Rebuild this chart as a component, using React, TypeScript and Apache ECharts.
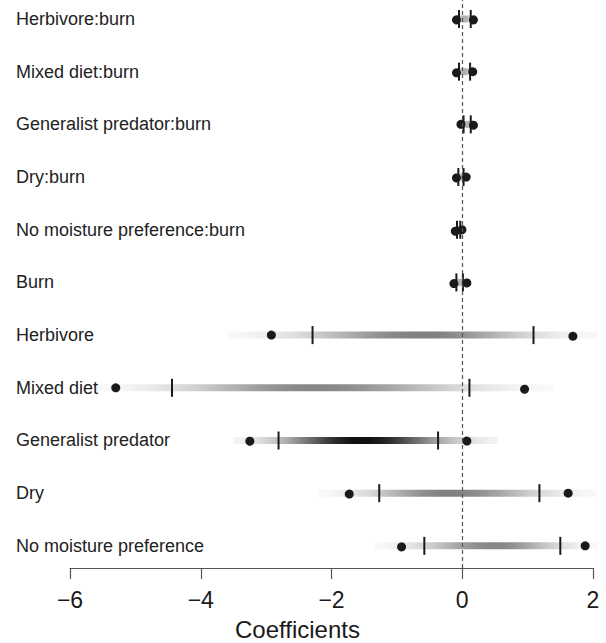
import React, { useEffect, useRef } from "react";
import * as echarts from "echarts";

// Rows from top to bottom
const labels = [
  "Herbivore:burn",
  "Mixed diet:burn",
  "Generalist predator:burn",
  "Dry:burn",
  "No moisture preference:burn",
  "Burn",
  "Herbivore",
  "Mixed diet",
  "Generalist predator",
  "Dry",
  "No moisture preference",
];
const outerLow = [-0.09, -0.09, -0.02, -0.09, -0.11, -0.13, -2.92, -5.3, -3.25, -1.73, -0.93];
const outerHigh = [0.17, 0.16, 0.17, 0.06, -0.005, 0.07, 1.69, 0.95, 0.07, 1.62, 1.88];
const innerLow = [-0.05, -0.05, 0.02, -0.06, -0.08, -0.09, -2.29, -4.44, -2.81, -1.27, -0.58];
const innerHigh = [0.13, 0.12, 0.13, 0.02, -0.03, 0.01, 1.09, 0.11, -0.37, 1.18, 1.5];
const densityLow = [-0.16, -0.15, -0.08, -0.13, -0.14, -0.17, -3.6, -5.6, -3.5, -2.2, -1.35];
const densityHigh = [0.22, 0.21, 0.21, 0.1, 0.02, 0.1, 2.08, 1.4, 0.55, 2.05, 2.08];
const densityMode = [0.04, 0.03, 0.08, -0.02, -0.05, -0.04, -0.6, -2.25, -1.55, -0.2, 0.5];
const peakShade = [175, 175, 175, 190, 190, 180, 128, 135, 15, 128, 135];
const xTicks = [-6, -4, -2, 0, 2];

const FONT = "Liberation Sans, Arial, Helvetica, sans-serif";
const INK = "#1a1a1a";

function gradientStops(lo: number, hi: number, mode: number, shade: number) {
  const stops: { offset: number; color: string }[] = [];
  const sl = Math.max((mode - lo) / 2.5, 1e-6);
  const sr = Math.max((hi - mode) / 2.5, 1e-6);
  const n = 40;
  for (let k = 0; k <= n; k++) {
    const t = k / n;
    const x = lo + t * (hi - lo);
    const s = x < mode ? sl : sr;
    const w = Math.exp(-0.5 * ((x - mode) / s) ** 2);
    const base = 255;
    const c = Math.round(base - (base - shade) * w);
    stops.push({ offset: t, color: `rgb(${c},${c},${c})` });
  }
  return stops;
}

export default function App() {
  const ref = useRef<HTMLDivElement>(null);
  useEffect(() => {
    document.body.style.margin = "0";
    if (!ref.current) return;
    const chart = echarts.init(ref.current, undefined, { renderer: "svg" });
    const n = labels.length;
    const rowY = labels.map((_, i) => n - i);

    const bandData = labels.map((_, i) => [densityLow[i], densityHigh[i], densityMode[i], rowY[i], peakShade[i]]);
    const markData = labels.map((_, i) => [outerLow[i], innerLow[i], innerHigh[i], outerHigh[i], rowY[i]]);

    chart.setOption({
      animation: false,
      grid: { left: 70, right: 13, top: 0, bottom: 75, containLabel: false, outerBoundsMode: "none" },
      xAxis: {
        type: "value",
        min: xTicks[0],
        max: xTicks[xTicks.length - 1],
        interval: 2,
        axisLine: { show: true, onZero: false, lineStyle: { color: "#555", width: 1.2 } },
        axisTick: { show: true, inside: false, length: 11, lineStyle: { color: "#555", width: 1.2 } },
        axisLabel: {
          fontSize: 23,
          color: "#1a1a1a",
          fontFamily: FONT,
          margin: 20,
          formatter: (v: number) => (v < 0 ? "\u2212" + Math.abs(v) : String(v)),
        },
        splitLine: { show: false },
        name: "Coefficients",
        nameLocation: "middle",
        nameGap: 50,
        nameTextStyle: {
          fontSize: 24,
          lineHeight: 22,
          color: "#1a1a1a",
          fontFamily: FONT,
          padding: [0, 68, 0, 0],
        },
      },
      yAxis: { type: "value", min: 0.58, max: 11.36, interval: 0.02, show: false },
      series: [
        {
          type: "custom",
          z: 1,
          data: bandData,
          renderItem: (params: any, api: any) => {
            const lo = api.value(0);
            const hi = api.value(1);
            const mode = api.value(2);
            const y = api.value(3);
            const shade = api.value(4);
            const p0 = api.coord([lo, y]);
            const p1 = api.coord([hi, y]);
            const h = 7;
            return {
              type: "rect",
              shape: { x: p0[0], y: p0[1] - h / 2, width: p1[0] - p0[0], height: h },
              style: {
                fill: new echarts.graphic.LinearGradient(0, 0, 1, 0, gradientStops(lo, hi, mode, shade)),
              },
            };
          },
        },
        {
          type: "line",
          z: 2,
          data: [],
          markLine: {
            silent: true,
            symbol: "none",
            label: { show: false },
            lineStyle: { type: [4, 3], color: "#555", width: 1.2 },
            data: [{ xAxis: 0 }],
          },
        },
        {
          type: "custom",
          z: 3,
          data: markData,
          renderItem: (params: any, api: any) => {
            const y = api.value(4);
            const oL = api.coord([api.value(0), y]);
            const iL = api.coord([api.value(1), y]);
            const iH = api.coord([api.value(2), y]);
            const oH = api.coord([api.value(3), y]);
            const th = 9;
            const r = 4.5;
            return {
              type: "group",
              children: [
                {
                  type: "line",
                  shape: { x1: iL[0], y1: iL[1] - th, x2: iL[0], y2: iL[1] + th },
                  style: { stroke: INK, lineWidth: 2 },
                },
                {
                  type: "line",
                  shape: { x1: iH[0], y1: iH[1] - th, x2: iH[0], y2: iH[1] + th },
                  style: { stroke: INK, lineWidth: 2 },
                },
                { type: "circle", shape: { cx: oL[0], cy: oL[1], r }, style: { fill: INK } },
                { type: "circle", shape: { cx: oH[0], cy: oH[1], r }, style: { fill: INK } },
                {
                  type: "text",
                  x: 16,
                  y: oL[1],
                  style: {
                    text: labels[params.dataIndex],
                    fontSize: 18,
                    fontFamily: FONT,
                    fill: "#222",
                    verticalAlign: "middle",
                    align: "left",
                  },
                },
              ],
            };
          },
        },
      ],
    });
    return () => chart.dispose();
  }, []);
  return <div ref={ref} style={{ width: 606, height: 643 }} />;
}
